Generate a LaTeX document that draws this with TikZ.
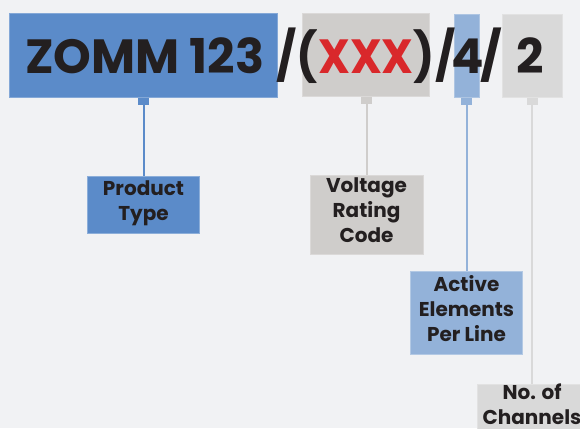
\documentclass[tikz,border=0pt]{standalone}
\usepackage{fontspec}
\setmainfont{Poppins}
\usepackage{xcolor}
\usepackage{tikz}
\usetikzlibrary{positioning}

\definecolor{pagebg}{HTML}{F1F2F4}
\definecolor{typeblue}{HTML}{5B8BC9}
\definecolor{voltgray}{HTML}{CFCDCB}
\definecolor{elemblue}{HTML}{93B2D9}
\definecolor{chgray}{HTML}{D9D9D9}
\definecolor{codered}{HTML}{D9282B}
\definecolor{inktext}{HTML}{231F20}

\tikzset{
  field/.style={rectangle, inner sep=0pt, anchor=north west, line width=0.6pt},
  tab/.style={rectangle, inner sep=0pt, minimum width=11pt, minimum height=7pt},
  codetxt/.style={font=\fontsize{48}{48}\selectfont\bfseries, text=inktext,
                  inner sep=0pt, anchor=base},
  tag/.style={rectangle, inner sep=0pt, align=center, line width=0.6pt,
              text depth=9pt,
              font=\fontsize{20}{25}\selectfont\bfseries, text=inktext},
  link/.style={line width=2pt},
}

\begin{document}
\begin{tikzpicture}[x=1pt, y=-1pt]
  \useasboundingbox (0,0) rectangle (580,428);
  \clip (0,0) rectangle (580,428);
  \fill[pagebg] (0,0) rectangle (580,428);

  % Code fields
  \node[field, fill=typeblue, draw=typeblue!75!white,
        minimum width=268pt, minimum height=84pt] (typefield) at (9,13) {};
  \node[field, fill=voltgray, draw=voltgray!75!white,
        minimum width=127pt, minimum height=83pt] (voltfield) at (302,13) {};
  \node[field, fill=elemblue, draw=elemblue!75!white,
        minimum width=25pt, minimum height=83pt] (elemfield) at (454,14) {};
  \node[field, fill=chgray, draw=chgray!75!white,
        minimum width=60pt, minimum height=83pt] (chfield) at (502,14) {};

  % Code text
  \node[codetxt, anchor=base west] (typetxt) at (25,73) {ZOMM 123};
  \node[codetxt] (volttxt) at (366,73)
       {\scalebox{0.93}[1]{/(\textcolor{codered}{XXX})/}};
  \node[codetxt] (elemtxt) at (468,73) {4};
  \node[codetxt] (slashtxt) at (491,73) {/};
  \node[codetxt] (chtxt) at (530,73) {2};

  % Tabs
  \node[tab, fill=typeblue, anchor=north] (typetab) at (typefield.south -| 143.5,0) {};
  \node[tab, fill=voltgray, anchor=north] (volttab) at (voltfield.south -| 366.5,0) {};
  \node[tab, fill=elemblue, anchor=north] (elemtab) at (elemfield.south -| 466.5,0) {};
  \node[tab, fill=chgray, anchor=north] (chtab) at (chfield.south -| 532,0) {};

  % Tags
  \node[tag, fill=typeblue, draw=typeblue!70!white, minimum width=112pt,
        minimum height=57pt, below=71pt of typetab] (typetag) {Product\\Type};
  \node[tag, fill=voltgray, draw=voltgray!75!white, minimum width=113pt,
        minimum height=79pt, below=71pt of volttab] (volttag) {Voltage\\Rating\\Code};
  \node[tag, fill=elemblue, draw=elemblue!70!white, minimum width=112pt,
        minimum height=83pt, below=166pt of elemtab] (elemtag) {Active\\Elements\\Per Line};
  \node[tag, fill=chgray, draw=chgray!75!white, minimum width=110pt,
        minimum height=47pt, below=279pt of chtab] (chtag) {No. of\\Channels};

  % Links
  \draw[link, typeblue] (typetab) -- (typetag);
  \draw[link, voltgray] (volttab) -- (volttag);
  \draw[link, elemblue] (elemtab) -- (elemtag);
  \draw[link, chgray] (chtab) -- (chtag);
\end{tikzpicture}
\end{document}
